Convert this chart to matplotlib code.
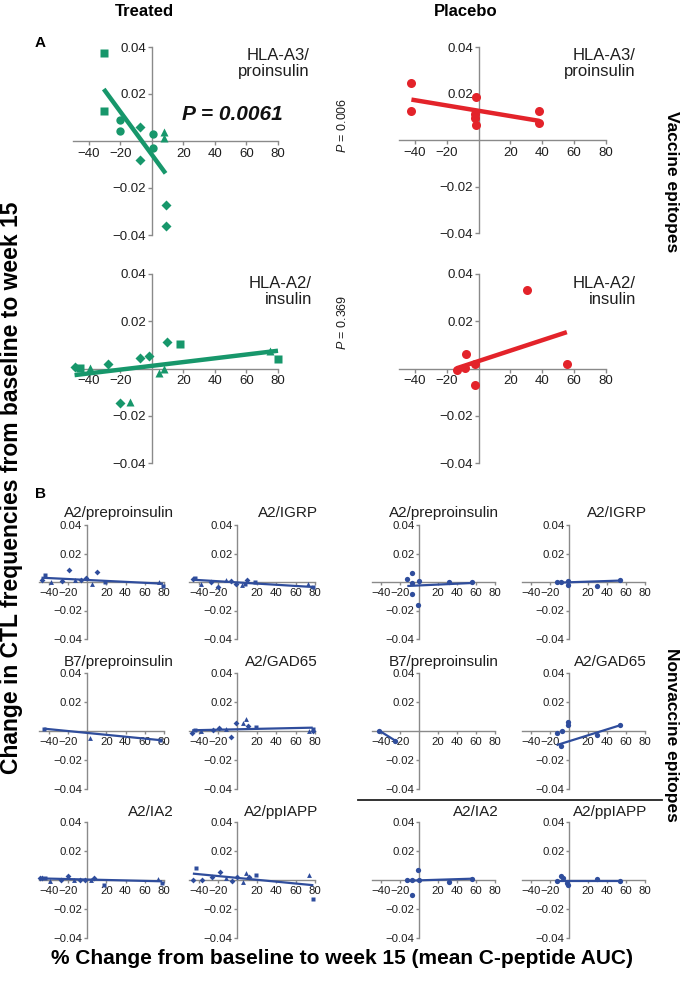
import numpy as np
import matplotlib
matplotlib.use("Agg")
import matplotlib.pyplot as plt
from matplotlib.lines import Line2D

plt.rcParams['font.family'] = ['Liberation Sans', 'DejaVu Sans']
plt.rcParams['mathtext.fontset'] = 'custom'
plt.rcParams['mathtext.rm'] = 'Liberation Sans'
plt.rcParams['mathtext.it'] = 'Liberation Sans:italic'

W, H = 687, 981
green = "#17976b"
red = "#e3232a"
blue = "#2f4d9c"
axis_grey = "#8a8a8a"
txt_col = "#1e1e1e"

# ---------------- panel A : vaccine epitopes ----------------
a3_treat_x = [-30.5, -30.5, -19.9, -19.9, 0.6, 0.6, -7.8, -7.8, 8.7, 8.7, 7.6, 7.6]
a3_treat_y = [0.0373, 0.0129, 0.0089, 0.0043, 0.0030, -0.0031, 0.0061, -0.0081, -0.0272, -0.0362, 0.0040, 0.0011]
a3_treat_m = ["s", "s", "o", "o", "o", "o", "D", "D", "D", "D", "^", "^"]
a3_treat_fit = (-0.000915, -0.00581)

a3_plac_x = [-42.2, -42.2, -1.5, -2.5, -2.5, -1.5, 38.2, 38.2]
a3_plac_y = [0.0245, 0.0125, 0.0186, 0.0113, 0.0094, 0.0064, 0.0125, 0.0072]
a3_plac_fit = (-0.000114, 0.01257)

a2_treat_x = [-49, -28, -20.4, -7.4, -2.1, 9.9, -45.3, 17.9, 80, -39.4, -13.7, 4.8, 7.8, 74.7]
a2_treat_y = [0.0006, 0.0021, -0.0148, 0.0044, 0.0052, 0.0114, 0.0001, 0.0103, 0.0042,
              0.0001, -0.0142, -0.0021, 0.0, 0.0073]
a2_treat_m = ["D"] * 6 + ["s"] * 3 + ["^"] * 5
a2_treat_fit = (0.00008, 0.00112)

a2_plac_x = [30.5, -7.8, -13.7, -8.4, -2.1, -2.1, 55.4]
a2_plac_y = [0.0331, 0.0062, -0.0007, 0.0001, 0.0021, -0.0068, 0.0021]
a2_plac_fit = (0.000221, 0.00315)

# ---------------- panel B : nonvaccine epitopes ----------------
pre_treat_x = [-47.4, -44, -37.6, -26.6, -19, -12.4, -6.4, -0.7, 5.4, 10.4, 18.5, 74.3, 79]
pre_treat_y = [0.0016, 0.0047, 0.0, 0.001, 0.0082, 0.0012, 0.0016, 0.0031, -0.0012, 0.0068, -0.0002, 0.0002, -0.0028]
pre_treat_m = ["D", "s", "^", "D", "D", "^", "D", "D", "^", "D", "s", "^", "s"]
pre_treat_fit = (-0.0000332, 0.00143)

igrp_treat_x = [-45.7, -43.3, -37.3, -27.3, -19.7, -12.3, -6.7, -1.3, 4.3, 7.7, 10.3, 17.7, 72.7, 77.7]
igrp_treat_y = [0.0024, 0.0031, -0.0012, 0.0, -0.0035, 0.0012, 0.0007, -0.0012, -0.0021, -0.0016,
                0.0016, 0.0, -0.0012, -0.0035]
igrp_treat_m = ["D", "s", "^", "D", "D", "^", "D", "D", "^", "s", "D", "s", "^", "s"]
igrp_treat_fit = (-0.0000413, -0.00029)

b7_treat_x = [-44.6, 3.4, 76]
b7_treat_y = [0.0016, -0.0047, -0.0063]
b7_treat_m = ["s", "^", "s"]
b7_treat_fit = (-0.0000655, -0.00132)

gad_treat_x = [-46.7, -44, -37.3, -25.7, -19, -12.3, -6.7, -1.3, 6, 8.7, 11, 18.7, 73.7, 77.7, 77.7]
gad_treat_y = [-0.0016, 0.0007, 0.0, 0.0007, 0.0019, 0.0014, -0.0044, 0.0058, 0.0058, 0.0081,
               0.0037, 0.0026, -0.0002, 0.0012, 0.0]
gad_treat_m = ["D", "s", "^", "D", "D", "^", "D", "D", "^", "^", "D", "s", "^", "s", "D"]
gad_treat_fit = (0.0000145, 0.00118)

ia2_treat_x = [-48.7, -46.4, -43.7, -38.7, -27.6, -20.2, -13.4, -7.4, -1.7, 4.4, 7.4, 17.5, 73.3, 78]
ia2_treat_y = [0.0011, 0.0011, 0.0011, -0.0005, 0.0002, 0.0025, 0.0, 0.0002, 0.0, 0.0, 0.0011,
               -0.0032, 0.0007, -0.002]
ia2_treat_m = ["D", "D", "s", "^", "D", "D", "^", "D", "D", "^", "D", "s", "^", "s"]
ia2_treat_fit = (-0.0000158, 0.00033)

iapp_treat_x = [-46, -42.7, -36.7, -26, -18.3, -11.7, -6, -0.7, 6, 8.3, 11.7, 19, 73.3, 78.3]
iapp_treat_y = [0.0, 0.0082, 0.0, 0.0024, 0.0053, 0.0016, -0.0007, 0.0022, -0.0011, 0.0049, 0.002,
                0.0033, 0.0033, -0.0131]
iapp_treat_m = ["D", "s", "D", "D", "D", "^", "D", "D", "^", "^", "D", "s", "^", "s"]
iapp_treat_fit = (-0.0000644, 0.00144)

pre_plac_x = [-12.7, -7.5, -8.2, -7.5, -0.3, -1.4, 31.2, 55.8]
pre_plac_y = [0.0019, 0.0061, -0.0005, -0.0087, 0.0009, -0.0158, 0.0, 0.0]
pre_plac_fit = (0.0000307, -0.00241)

igrp_plac_x = [-13.5, -8.8, -1.7, -1.7, 29.4, 54]
igrp_plac_y = [0.0, 0.0, 0.0009, -0.0024, -0.0026, 0.0016]
igrp_plac_fit = (0.0000222, -0.0002)

b7_plac_x = [-42.3, -25.3]
b7_plac_y = [0.0002, -0.0067]
b7_plac_fit = (-0.000406, -0.01697)

gad_plac_x = [-13.5, -7.8, -1.7, -1.0, -8.4, 29.4, 54]
gad_plac_y = [-0.0012, 0.0, 0.0065, 0.004, -0.010, -0.003, 0.0042]
gad_plac_fit = (0.000204, -0.0070)

ia2_plac_x = [-12.6, -7.5, -1.7, -7.5, 0.0, 31, 55.6]
ia2_plac_y = [0.0, 0.0, 0.0068, -0.0102, 0.0, -0.0011, 0.0007]
ia2_plac_fit = (0.0000205, -0.00024)

iapp_plac_x = [-13.5, -8.8, -6.8, -2.0, -1.0, 29.4, 54]
iapp_plac_y = [-0.0005, 0.0027, 0.0011, -0.0023, -0.0034, 0.0007, -0.0007]
iapp_plac_fit = (0.0, -0.0005)

x_ticks = [-40, -20, 20, 40, 60, 80]
x_ticklabels = ["\u221240", "\u221220", "20", "40", "60", "80"]
y_ticks = [0.04, 0.02, -0.02, -0.04]
y_ticklabels = ["0.04", "0.02", "\u22120.02", "\u22120.04"]

fig = plt.figure(figsize=(W / 100, H / 100), dpi=100)


def ftxt(x, y, s, **kw):
    return fig.text(x / W, 1 - y / H, s, **kw)


def make_ax(x0, x1, y0, y1, fs, tl):
    ax = fig.add_axes([x0 / W, 1 - y1 / H, (x1 - x0) / W, (y1 - y0) / H])
    ax.set_xlim(-50, 80)
    ax.set_ylim(-0.04, 0.04)
    ax.patch.set_visible(False)
    for s in ["top", "right"]:
        ax.spines[s].set_visible(False)
    for s in ["left", "bottom"]:
        ax.spines[s].set_position(("data", 0))
        ax.spines[s].set_color(axis_grey)
        ax.spines[s].set_linewidth(1)
    ax.set_xticks(x_ticks)
    ax.set_xticklabels(x_ticklabels)
    ax.set_yticks(y_ticks)
    ax.set_yticklabels(y_ticklabels)
    ax.tick_params(colors=axis_grey, labelcolor=txt_col, labelsize=fs, length=tl, width=1)
    ax.tick_params(axis="y", pad=1)
    ax.tick_params(axis="x", pad=2)
    return ax


def draw(ax, x, y, color, fit, ms, lw, markers=None):
    x = np.array(x)
    y = np.array(y)
    if markers is None:
        markers = ["o"] * len(x)
    markers = np.array(markers)
    for m in ["s", "o", "D", "^"]:
        sel = markers == m
        if sel.any():
            size = ms * 0.85 if m == "D" else ms
            ax.plot(x[sel], y[sel], ls="none", marker=m, ms=size, color=color,
                    mec="none", clip_on=False, zorder=3)
    xs = np.array([x.min(), x.max()])
    ax.plot(xs, fit[0] * xs + fit[1], color=color, lw=lw, solid_capstyle="butt",
            clip_on=False, zorder=4)


# panel A axes
ax = make_ax(73, 278, 47, 235, 9.5, 3)
draw(ax, a3_treat_x, a3_treat_y, green, a3_treat_fit, 6, 3.2, a3_treat_m)
ax = make_ax(399, 606, 47, 233, 9.5, 3)
draw(ax, a3_plac_x, a3_plac_y, red, a3_plac_fit, 6.5, 3.2)
ax = make_ax(73, 278, 274, 463, 9.5, 3)
draw(ax, a2_treat_x, a2_treat_y, green, a2_treat_fit, 6, 3.2, a2_treat_m)
ax = make_ax(399, 606, 274, 463, 9.5, 3)
draw(ax, a2_plac_x, a2_plac_y, red, a2_plac_fit, 6.5, 3.2)

# panel B axes
cols = [(39, 164), (189, 315), (372, 495), (522, 645)]
rows = [(525, 639), (673, 789), (822, 938)]
small = [
    [(pre_treat_x, pre_treat_y, pre_treat_fit, pre_treat_m), (igrp_treat_x, igrp_treat_y, igrp_treat_fit, igrp_treat_m),
     (pre_plac_x, pre_plac_y, pre_plac_fit, None), (igrp_plac_x, igrp_plac_y, igrp_plac_fit, None)],
    [(b7_treat_x, b7_treat_y, b7_treat_fit, b7_treat_m), (gad_treat_x, gad_treat_y, gad_treat_fit, gad_treat_m),
     (b7_plac_x, b7_plac_y, b7_plac_fit, None), (gad_plac_x, gad_plac_y, gad_plac_fit, None)],
    [(ia2_treat_x, ia2_treat_y, ia2_treat_fit, ia2_treat_m), (iapp_treat_x, iapp_treat_y, iapp_treat_fit, iapp_treat_m),
     (ia2_plac_x, ia2_plac_y, ia2_plac_fit, None), (iapp_plac_x, iapp_plac_y, iapp_plac_fit, None)],
]
titles = [["A2/preproinsulin", "A2/IGRP", "A2/preproinsulin", "A2/IGRP"],
          ["B7/preproinsulin", "A2/GAD65", "B7/preproinsulin", "A2/GAD65"],
          ["A2/IA2", "A2/ppIAPP", "A2/IA2", "A2/ppIAPP"]]
title_x = [174, 318, 499, 647]
title_y = [513, 662, 812]

for r, (y0, y1) in enumerate(rows):
    for c, (x0, x1) in enumerate(cols):
        ax = make_ax(x0, x1, y0, y1, 8.2, 2.5)
        xd, yd, fit, mk = small[r][c]
        ms = 3.5 if mk is not None else 3.8
        draw(ax, xd, yd, blue, fit, ms, 1.6, mk)
        ftxt(title_x[c], title_y[r], titles[r][c], ha="right", va="center",
             fontsize=11, color=txt_col)

# panel labels in A
ftxt(310, 48, "HLA-A3/\nproinsulin", ha="right", va="top", fontsize=12, color=txt_col, linespacing=1.1)
ftxt(636, 48, "HLA-A3/\nproinsulin", ha="right", va="top", fontsize=12, color=txt_col, linespacing=1.1)
ftxt(312, 276, "HLA-A2/\ninsulin", ha="right", va="top", fontsize=12, color=txt_col, linespacing=1.1)
ftxt(636, 276, "HLA-A2/\ninsulin", ha="right", va="top", fontsize=12, color=txt_col, linespacing=1.1)

ftxt(232, 115, "P = 0.0061", ha="center", va="center", fontsize=15, fontweight="bold",
     fontstyle="italic", color="#111111")
ftxt(343, 125, "$P$ = 0.006", ha="center", va="center", rotation=90, fontsize=9, color=txt_col)
ftxt(343, 322, "$P$ = 0.369", ha="center", va="center", rotation=90, fontsize=9, color=txt_col)

# headers and side labels
ftxt(144, 12, "Treated", ha="center", va="center", fontsize=12, fontweight="bold")
ftxt(466, 12, "Placebo", ha="center", va="center", fontsize=12, fontweight="bold")
ftxt(40, 43, "A", ha="center", va="center", fontsize=11, fontweight="bold")
ftxt(40, 494, "B", ha="center", va="center", fontsize=11, fontweight="bold")
ftxt(12, 488, "Change in CTL frequencies from baseline to week 15", ha="center", va="center",
     rotation=90, fontsize=16.5, fontweight="bold")
ftxt(342, 958, "% Change from baseline to week 15 (mean C-peptide AUC)", ha="center", va="center",
     fontsize=15, fontweight="bold")
ftxt(672, 182, "Vaccine epitopes", ha="center", va="center", rotation=-90, fontsize=12.5,
     fontweight="bold")
ftxt(672, 735, "Nonvaccine epitopes", ha="center", va="center", rotation=-90, fontsize=12.5,
     fontweight="bold")

fig.add_artist(Line2D([358 / W, 662 / W], [1 - 800 / H, 1 - 800 / H], color="#222222", lw=1.3))

fig.savefig("out.png", dpi=100)
